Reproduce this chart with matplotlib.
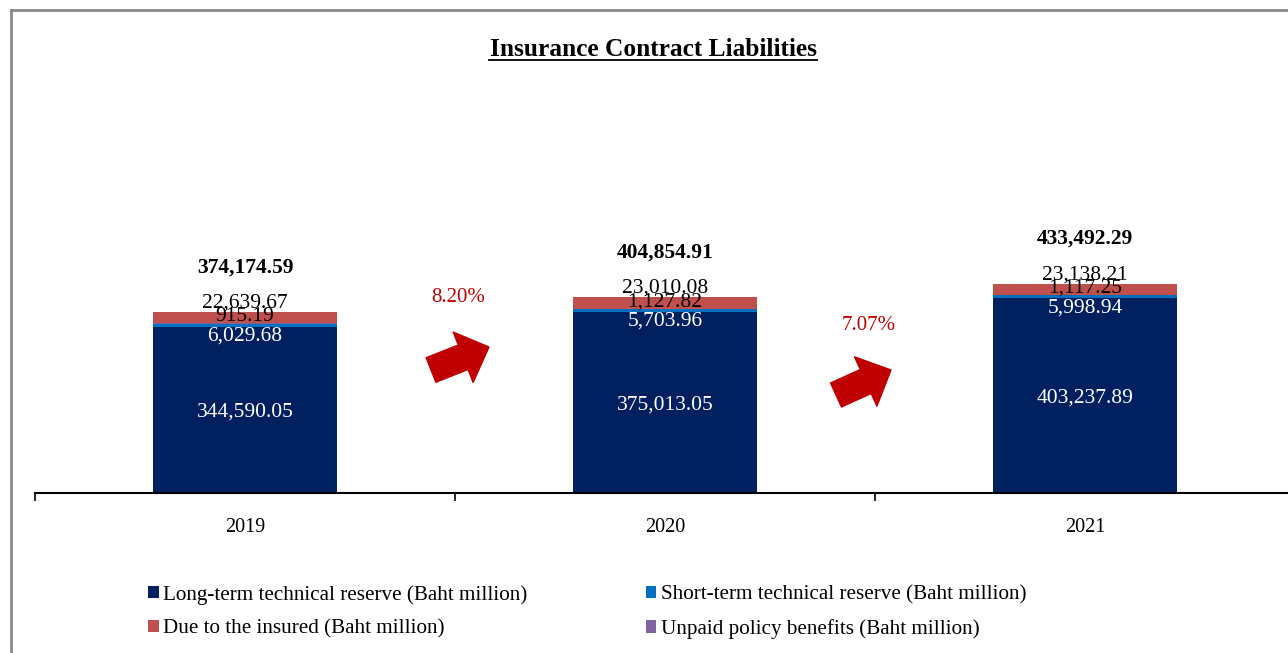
import matplotlib.pyplot as plt
import matplotlib.patches as mpatches
from matplotlib.lines import Line2D
import numpy as np

plt.rcParams['font.family'] = ['Liberation Serif', 'DejaVu Serif']

years = ['2019', '2020', '2021']
long_term = [344590.05, 375013.05, 403237.89]
short_term = [6029.68, 5703.96, 5998.94]
unpaid = [915.19, 1127.82, 1117.25]
due_insured = [22639.67, 23010.08, 23138.21]

series_names = ['Long-term technical reserve (Baht million)',
                'Short-term technical reserve (Baht million)',
                'Unpaid policy benefits (Baht million)',
                'Due to the insured (Baht million)']
colors = ['#002060', '#0070C0', '#8064A2', '#C0504D']
label_colors = ['white', 'white', 'black', 'black']
# vertical offsets (pixels) of the data labels from each segment centre
label_offsets = [-2.5, -11, 7, 14.5]

W, H = 1288, 653
fig = plt.figure(figsize=(W / 100, H / 100), dpi=100)
ax = fig.add_axes([35 / W, (H - 493) / H, 1260 / W, 413 / H])

x = np.arange(len(years))
bar_w = 0.436
stack = [long_term, short_term, unpaid, due_insured]
bottom = np.zeros(len(years))
for vals, name, col, lc, off in zip(stack, series_names, colors, label_colors, label_offsets):
    vals = np.array(vals)
    ax.bar(x, vals, bar_w, bottom=bottom, color=col, label=name)
    for xi, b, v in zip(x, bottom, vals):
        ax.annotate('{:,.2f}'.format(v), (xi, b + v / 2), xytext=(0, off),
                    textcoords='offset pixels', ha='center', va='center',
                    fontsize=15.5, color=lc)
    bottom = bottom + vals

totals = bottom
for xi, t in zip(x, totals):
    ax.annotate('{:,.2f}'.format(t), (xi, t), xytext=(0, 45),
                textcoords='offset pixels', ha='center', va='center',
                fontsize=15.5, fontweight='bold', color='black')

ax.set_xlim(-0.5, 2.5)
ax.set_ylim(0, 855000)
ax.set_yticks([])
for s in ['top', 'right', 'left']:
    ax.spines[s].set_visible(False)
ax.spines['bottom'].set_linewidth(1.5)
ax.set_xticks(x)
ax.set_xticklabels(years, fontsize=14.5)
ax.tick_params(axis='x', which='major', length=0, pad=18)
ax.set_xticks([-0.5, 0.5, 1.5, 2.5], minor=True)
ax.tick_params(axis='x', which='minor', length=6, width=1.2, direction='out')

# growth arrows and percentages
growth = [(totals[i + 1] / totals[i] - 1) * 100 for i in range(len(totals) - 1)]
arrow_tails = [(431, 370), (836, 395)]
arrow_tips = [(489, 347), (891, 370)]
pct_pos = [(458, 297), (869, 325)]
for g, tail, tip, pp in zip(growth, arrow_tails, arrow_tips, pct_pos):
    fig.text(pp[0] / W, (H - pp[1]) / H, '{:.2f}%'.format(g), ha='center', va='center',
             fontsize=15, color='#C00000')
    ax.annotate('', xy=(tip[0], H - tip[1]), xycoords='figure pixels',
                xytext=(tail[0], H - tail[1]), textcoords='figure pixels',
                arrowprops=dict(arrowstyle='simple,head_width=3.9,head_length=2.0,tail_width=1.9',
                                mutation_scale=10, color='#C00000', shrinkA=0, shrinkB=0))

# title with underline
title = fig.text(653 / W, (H - 49) / H, 'Insurance Contract Liabilities', ha='center', va='center',
                 fontsize=18.3, fontweight='bold')
fig.canvas.draw()
bb = title.get_window_extent()
fig.add_artist(Line2D([bb.x0 / W, bb.x1 / W], [(bb.y0 + 1) / H, (bb.y0 + 1) / H],
                      color='black', linewidth=1.3))

# outer border (left and top edges visible)
fig.add_artist(Line2D([11 / W, 11 / W], [0, (H - 10) / H], color='#898989', linewidth=2))
fig.add_artist(Line2D([11 / W, 1], [(H - 10) / H, (H - 10) / H], color='#898989', linewidth=2))

handles, labels = ax.get_legend_handles_labels()
order = [0, 3, 1, 2]
fig.legend([handles[i] for i in order], [labels[i] for i in order], ncol=2,
           loc='upper left', bbox_to_anchor=(148 / W, (H - 585) / H), frameon=False,
           fontsize=15.2, handlelength=0.5, handleheight=0.5, handletextpad=0.22,
           columnspacing=5.6, labelspacing=0.68, borderpad=0, borderaxespad=0)

fig.savefig('out.png', dpi=100)
